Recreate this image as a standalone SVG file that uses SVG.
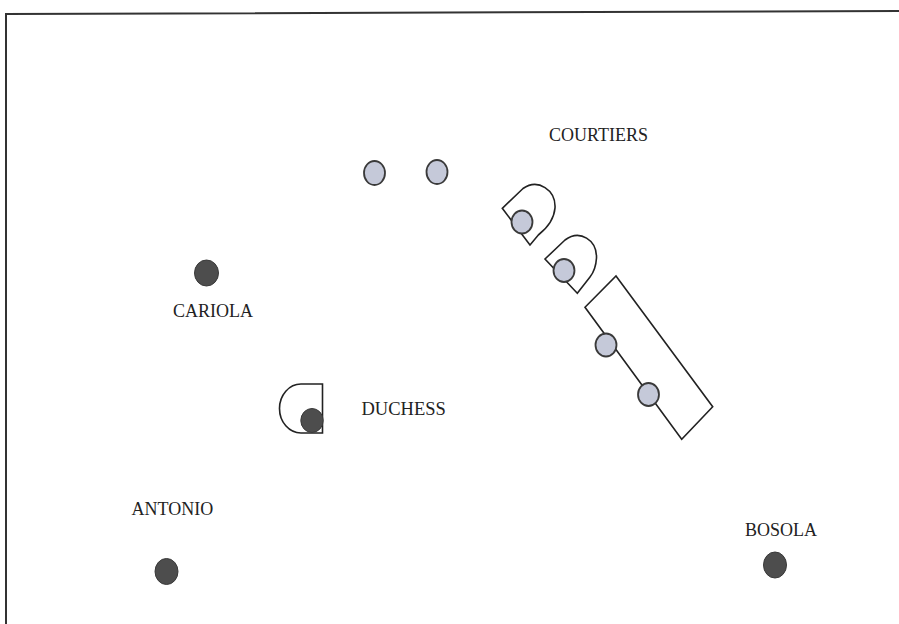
<svg xmlns="http://www.w3.org/2000/svg" width="899" height="624" viewBox="0 0 899 624">
<style>
.lbl{font-family:"Liberation Serif","Times New Roman",serif;font-size:18px;fill:#222}
.grey{fill:#c5c9d9;stroke:#3a3a3a;stroke-width:1.8}
.dark{fill:#4d4d4d;stroke:#3a3a3a;stroke-width:1}
.outline{fill:none;stroke:#222;stroke-width:1.6;stroke-linejoin:miter}
</style>
<rect width="899" height="624" fill="#fff"/>
<g id="frame">
<path d="M6,624 V14 L899,11" fill="none" stroke="#333" stroke-width="2"/>
</g>
<g id="connectors"/>
<g id="courtiers">
<text class="lbl" x="549" y="141">COURTIERS</text>
<ellipse class="grey" cx="374.5" cy="173" rx="10.5" ry="12"/>
<ellipse class="grey" cx="437" cy="172" rx="10.5" ry="12"/>
<path class="outline" d="M530,245 L502.3,208.3 L523,188.5 C538,178 556,190 555,208 C554,220 546,229 538.3,235 Z"/>
<ellipse class="grey" cx="522" cy="222" rx="10.5" ry="11.5"/>
<path class="outline" d="M577.3,293.3 L545,259 L565,240 C580,229 597,240 596.5,258 C596,266 594,272 590,277 Z"/>
<ellipse class="grey" cx="564" cy="270.5" rx="10.5" ry="11.5"/>
<polygon class="outline" points="585,307.3 616,276 712.7,406.7 681.7,439.3"/>
<ellipse class="grey" cx="606" cy="345" rx="10.5" ry="11.5"/>
<ellipse class="grey" cx="648.5" cy="394.5" rx="10.5" ry="11.5"/>
</g>
<g id="cariola">
<ellipse class="dark" cx="206.5" cy="273" rx="12" ry="13"/>
<text class="lbl" x="173" y="317">CARIOLA</text>
</g>
<g id="duchess">
<path class="outline" d="M322.5,384 H301 A21.5,24.5 0 0 0 301,433 H322.5 Z"/>
<ellipse class="dark" cx="312" cy="420.5" rx="11.2" ry="12"/>
<text class="lbl" x="361.5" y="415" style="font-size:18.5px">DUCHESS</text>
</g>
<g id="antonio">
<text class="lbl" x="131.5" y="515">ANTONIO</text>
<ellipse class="dark" cx="166.5" cy="571.5" rx="11.5" ry="13"/>
</g>
<g id="bosola">
<text class="lbl" x="745" y="536">BOSOLA</text>
<ellipse class="dark" cx="775" cy="565" rx="11.5" ry="13"/>
</g>
</svg>
